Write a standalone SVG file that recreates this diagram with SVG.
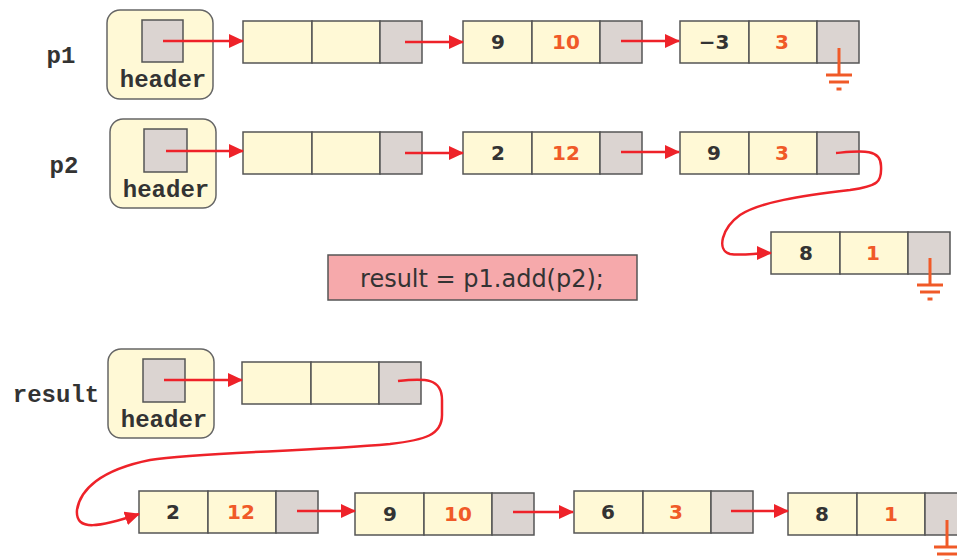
<svg xmlns="http://www.w3.org/2000/svg" width="957" height="560" viewBox="0 0 957 560">
<style>
.bg{fill:#ffffff}
.hdr{fill:#fff9d6;stroke:#666;stroke-width:1.5}
.ptr{fill:#dbd4d1;stroke:#555;stroke-width:1.5}
.cell{fill:#fff9d6;stroke:#555;stroke-width:1.5}
.mono{font-family:"Liberation Mono","Courier New",monospace;font-weight:bold;font-size:24px;fill:#333}
.num{font-family:"DejaVu Sans",Verdana,sans-serif;font-weight:bold;font-size:20px;text-anchor:middle}
.coef{fill:#333}
.exp{fill:#f05a28}
.link{fill:none;stroke:#ee2229;stroke-width:2.5;marker-end:url(#ah)}
.gnd{stroke:#f05a28;stroke-width:3;fill:none}
.code{font-family:"DejaVu Sans",Tahoma,Verdana,sans-serif;font-size:24px;fill:#333;text-anchor:middle}
</style>
<defs>
<marker id="ah" viewBox="0 0 15 14" refX="14" refY="7" markerWidth="15" markerHeight="14" markerUnits="userSpaceOnUse" orient="auto">
<path d="M0,0 L15,7 L0,14 z" fill="#ee2229"/>
</marker>
<g id="ground" class="gnd">
<line x1="0" y1="0" x2="0" y2="27"/>
<line x1="-13" y1="27" x2="13" y2="27"/>
<line x1="-10" y1="34" x2="10" y2="34"/>
<line x1="-2.5" y1="41" x2="2.5" y2="41"/>
</g>
<g id="node">
<rect class="cell" x="0" y="0" width="69" height="42"/>
<rect class="cell" x="69" y="0" width="68" height="42"/>
<rect class="ptr" x="137" y="0" width="42" height="42"/>
</g>
</defs>
<rect class="bg" x="0" y="0" width="957" height="560"/>

<!-- p1 row -->
<text class="mono" x="61" y="63" text-anchor="middle">p1</text>
<g id="p1-header">
<rect class="hdr" x="107" y="10" width="106" height="89" rx="13"/>
<rect class="ptr" x="142" y="20" width="41" height="42"/>
<text class="mono" x="163" y="87" text-anchor="middle">header</text>
</g>
<g id="p1-n0"><use href="#node" x="243" y="21"/></g>
<g id="p1-n1"><use href="#node" x="463" y="21"/>
<text class="num coef" x="498" y="49">9</text><text class="num exp" x="566" y="49">10</text></g>
<g id="p1-n2"><use href="#node" x="680" y="21"/>
<text class="num coef" x="714" y="49">−3</text><text class="num exp" x="782" y="49">3</text>
<use href="#ground" x="839" y="48"/></g>

<!-- p2 row -->
<text class="mono" x="64" y="173" text-anchor="middle">p2</text>
<g id="p2-header">
<rect class="hdr" x="110" y="119" width="106" height="89" rx="13"/>
<rect class="ptr" x="144" y="129" width="43" height="43"/>
<text class="mono" x="166" y="197" text-anchor="middle">header</text>
</g>
<g id="p2-n0"><use href="#node" x="243" y="132"/></g>
<g id="p2-n1"><use href="#node" x="463" y="132"/>
<text class="num coef" x="498" y="160">2</text><text class="num exp" x="566" y="160">12</text></g>
<g id="p2-n2"><use href="#node" x="680" y="132"/>
<text class="num coef" x="714" y="160">9</text><text class="num exp" x="782" y="160">3</text></g>
<g id="p2-n3"><use href="#node" x="771" y="232"/>
<text class="num coef" x="806" y="260">8</text><text class="num exp" x="873" y="260">1</text>
<use href="#ground" x="930" y="258"/></g>

<!-- code box -->
<g id="code">
<rect x="328" y="255" width="309" height="45" fill="#f6a9ab" stroke="#555" stroke-width="1.5"/>
<text class="code" x="482" y="287">result = p1.add(p2);</text>
</g>

<!-- result row -->
<text class="mono" x="56" y="402" text-anchor="middle">result</text>
<g id="r-header">
<rect class="hdr" x="108" y="349" width="106" height="89" rx="13"/>
<rect class="ptr" x="143" y="359" width="42" height="43"/>
<text class="mono" x="164" y="427" text-anchor="middle">header</text>
</g>
<g id="r-n0"><use href="#node" x="242" y="362"/></g>
<g id="r-n1"><use href="#node" x="139" y="491"/>
<text class="num coef" x="173" y="519">2</text><text class="num exp" x="241" y="519">12</text></g>
<g id="r-n2"><use href="#node" x="355" y="493"/>
<text class="num coef" x="390" y="521">9</text><text class="num exp" x="458" y="521">10</text></g>
<g id="r-n3"><use href="#node" x="574" y="491"/>
<text class="num coef" x="608" y="519">6</text><text class="num exp" x="676" y="519">3</text></g>
<g id="r-n4"><use href="#node" x="788" y="493"/>
<text class="num coef" x="822" y="521">8</text><text class="num exp" x="891" y="521">1</text>
<use href="#ground" x="947" y="520"/></g>

<!-- connectors -->
<g id="connectors">
<path class="link" d="M163,41 L243,41"/>
<path class="link" d="M405,42 L463,42"/>
<path class="link" d="M621,41 L679,41"/>
<path class="link" d="M166,151 L243,151"/>
<path class="link" d="M405,153 L463,153"/>
<path class="link" d="M621,152 L679,152"/>
<path class="link" d="M836,153 C860,151 881,148 881,166 C882,182 878,186 850,190 C800,196 760,202 740,215 C722,228 716,250 730,254 C742,256 755,253 771,253"/>
<path class="link" d="M164,380 L242,380"/>
<path class="link" d="M398,381 C425,378 442,378 442,400 L442,415 C442,435 425,440 390,444 C300,452 200,452 150,460 C100,470 80,490 77,510 C75,532 100,527 139,514"/>
<path class="link" d="M297,511 L355,511"/>
<path class="link" d="M513,512 L573,512"/>
<path class="link" d="M731,511 L788,511"/>
</g>
</svg>
